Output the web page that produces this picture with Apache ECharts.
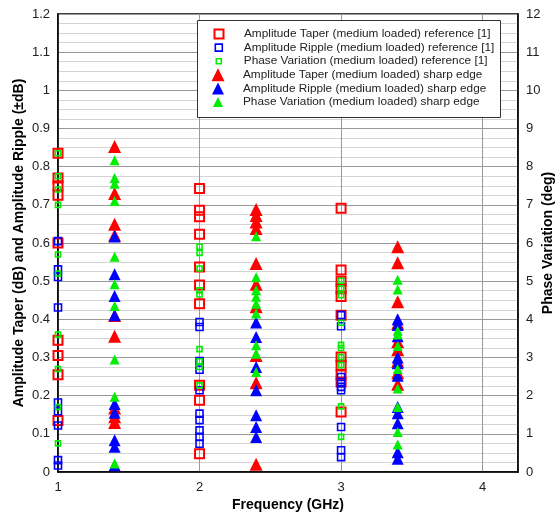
<!DOCTYPE html>
<html>
<head>
<meta charset="utf-8">
<script src="https://cdn.jsdelivr.net/npm/echarts@6/dist/echarts.min.js"></script>
<style>
html, body { margin: 0; padding: 0; background: #fff; }
#chart { width: 559px; height: 515px; }
</style>
</head>
<body>
<div id="chart"></div>
<script>
// frequencies (GHz) of the two data sets
const freqRef = [1, 2, 3]
const freqSharp = [1.4, 2.4, 3.4]

// reference [1], one list per frequency (dB, phase in deg)
const taperRef = [
  [0.835, 0.77, 0.75, 0.725, 0.60, 0.345, 0.305, 0.255, 0.135],
  [0.743, 0.686, 0.669, 0.623, 0.537, 0.49, 0.441, 0.227, 0.188, 0.048],
  [0.691, 0.529, 0.50, 0.48, 0.46, 0.411, 0.301, 0.28, 0.254, 0.236, 0.157]
]
const rippleRef = [
  [0.605, 0.531, 0.511, 0.431, 0.182, 0.159, 0.122, 0.031, 0.017],
  [0.393, 0.38, 0.291, 0.268, 0.214, 0.153, 0.136, 0.109, 0.092, 0.074],
  [0.411, 0.382, 0.249, 0.236, 0.223, 0.214, 0.118, 0.057, 0.039]
]
const phaseRef = [
  [8.35, 7.75, 7.4, 7.0, 5.7, 5.2, 3.6, 2.7, 1.7, 0.75],
  [5.9, 5.74, 5.33, 4.76, 4.65, 3.22, 2.9, 2.75, 2.27],
  [5.01, 4.81, 4.63, 3.91, 3.33, 3.25, 3.01, 2.8, 1.72, 0.92]
]

// sharp edge
const taperSharp = [
  [0.853, 0.73, 0.649, 0.62, 0.41, 0.356, 0.168, 0.145, 0.13],
  [0.688, 0.672, 0.655, 0.638, 0.546, 0.492, 0.433, 0.305, 0.234, 0.02],
  [0.59, 0.548, 0.446, 0.39, 0.341, 0.32, 0.29, 0.26, 0.23]
]
const rippleSharp = [
  [0.617, 0.518, 0.461, 0.411, 0.178, 0.155, 0.083, 0.066, 0.018],
  [0.392, 0.354, 0.275, 0.214, 0.149, 0.118, 0.092],
  [0.40, 0.385, 0.356, 0.30, 0.285, 0.252, 0.17, 0.154, 0.128, 0.052, 0.035]
]
const phaseSharp = [
  [8.17, 7.7, 7.55, 7.1, 5.64, 4.92, 4.35, 2.95, 1.97, 0.22],
  [6.18, 5.1, 4.76, 4.59, 4.41, 4.15, 3.32, 3.1, 2.62],
  [5.04, 4.78, 3.7, 3.6, 3.3, 2.7, 2.19, 1.7, 1.05, 0.72]
]

const names = [
  'Amplitude Taper (medium loaded) reference [1]',
  'Amplitude Ripple (medium loaded) reference [1]',
  'Phase Variation (medium loaded) reference [1]',
  'Amplitude Taper (medium loaded) sharp edge',
  'Amplitude Ripple (medium loaded) sharp edge',
  'Phase Variation (medium loaded) sharp edge'
]

const font = 'Liberation Sans, Arial, sans-serif'

function points(freqs, groups) {
  const out = []
  groups.forEach((vals, i) => {
    vals.forEach(v => out.push([freqs[i], v]))
  })
  return out
}

// look of each series: [symbol, size, colour, borderWidth, yAxis]
const looks = [
  ['rect', 9, '#ff0000', 2, 0],
  ['rect', 7, '#0000ff', 1.6, 0],
  ['rect', 5, '#00ee00', 1.6, 1],
  ['triangle', 13, '#ff0000', 0, 0],
  ['triangle', 12, '#0000ff', 0, 0],
  ['triangle', 10, '#00ee00', 0, 1]
]
const dataSets = [
  points(freqRef, taperRef),
  points(freqRef, rippleRef),
  points(freqRef, phaseRef),
  points(freqSharp, taperSharp),
  points(freqSharp, rippleSharp),
  points(freqSharp, phaseSharp)
]

const series = looks.map((lk, i) => {
  const hollow = lk[0] === 'rect'
  return {
    name: names[i],
    type: 'scatter',
    yAxisIndex: lk[4],
    symbol: lk[0],
    symbolSize: lk[1],
    itemStyle: hollow
      ? { color: 'rgba(0,0,0,0)', borderColor: lk[2], borderWidth: lk[3], opacity: 1 }
      : { color: lk[2], opacity: 1 },
    emphasis: { disabled: true },
    data: dataSets[i]
  }
})

// one small legend per entry so the icons keep their own sizes
const legends = looks.map((lk, i) => {
  const hollow = lk[0] === 'rect'
  const size = lk[1]
  return {
    data: [{ name: names[i], icon: lk[0] }],
    left: 218 - size / 2,
    top: 27 + i * 13.6,
    padding: 0,
    itemWidth: size,
    itemHeight: size,
    selectedMode: false,
    itemStyle: hollow
      ? { color: 'rgba(0,0,0,0)', borderColor: lk[2], borderWidth: lk[3] }
      : { color: lk[2], borderWidth: 0 },
    textStyle: {
      fontSize: 11.8, fontFamily: font, color: '#222', lineHeight: 14,
      padding: [0, 0, 0, 20 - size / 2]
    }
  }
})

const chart = echarts.init(document.getElementById('chart'))
chart.setOption({
  animation: false,
  grid: {
    left: 58, right: 41, top: 14, bottom: 43,
    outerBoundsMode: 'none',
    containLabel: false,
    show: true, borderColor: '#000', borderWidth: 1.5
  },
  graphic: [{
    type: 'rect',
    left: 197, top: 20,
    z: 3,
    shape: { width: 303, height: 97 },
    style: { fill: '#fff', stroke: '#333', lineWidth: 1 }
  }],
  legend: legends,
  xAxis: {
    type: 'value',
    min: 1, max: 4.25, interval: 1,
    name: 'Frequency (GHz)',
    nameLocation: 'middle',
    nameGap: 26,
    nameMoveOverlap: false,
    nameTextStyle: { fontSize: 14, fontWeight: 'bold', fontFamily: font, color: '#000' },
    axisLine: { lineStyle: { color: '#000', width: 1.5 } },
    axisTick: { show: false },
    axisLabel: { fontSize: 13, fontFamily: font, color: '#222', margin: 9, showMaxLabel: false },
    splitLine: { lineStyle: { color: '#999', width: 1 } }
  },
  yAxis: [{
    type: 'value',
    min: 0, max: 1.2, interval: 0.1,
    name: 'Amplitude Taper (dB) and Amplitude Ripple (±dB)',
    nameLocation: 'middle',
    nameRotate: 90,
    nameGap: 32,
    nameMoveOverlap: false,
    nameTextStyle: { fontSize: 14, fontWeight: 'bold', fontFamily: font, color: '#000' },
    axisLine: { lineStyle: { color: '#000', width: 1.5 } },
    axisTick: { show: false },
    axisLabel: { fontSize: 13, fontFamily: font, color: '#222', margin: 8 },
    splitLine: { lineStyle: { color: '#999', width: 1 } },
    minorTick: { show: false, splitNumber: 4 },
    minorSplitLine: { show: true, lineStyle: { color: '#d4d4d4', width: 1 } }
  }, {
    type: 'value',
    min: 0, max: 12, interval: 1,
    position: 'right',
    name: 'Phase Variation (deg)',
    nameLocation: 'middle',
    nameRotate: 90,
    nameGap: 23,
    nameMoveOverlap: false,
    nameTextStyle: { fontSize: 14, fontWeight: 'bold', fontFamily: font, color: '#000' },
    axisLine: { show: true, lineStyle: { color: '#000', width: 1.5 } },
    axisTick: { show: false },
    axisLabel: { fontSize: 13, fontFamily: font, color: '#222', margin: 8 },
    splitLine: { show: false }
  }],
  series: series
})
</script>
</body>
</html>
